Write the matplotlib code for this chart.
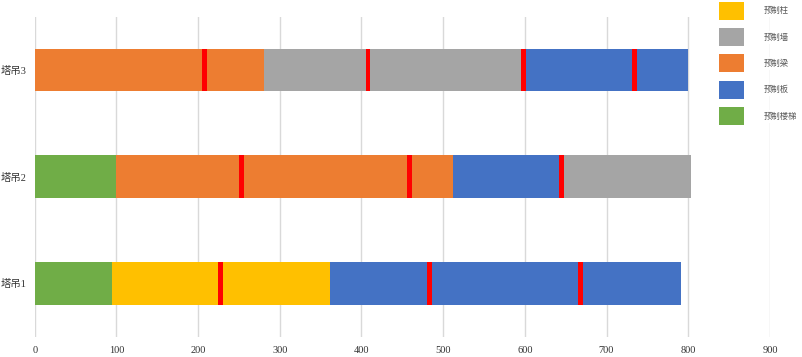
import matplotlib.pyplot as plt
from matplotlib.patches import Patch

plt.rcParams['font.family'] = ['Liberation Serif', 'Noto Sans CJK SC', 'DejaVu Sans']

towers = ['塔吊1', '塔吊2', '塔吊3']

# segments of each tower crane bar (category, length)
t1_parts = ['预制楼梯', '预制柱', '预制板']
t1_len = [95, 266, 430]
t2_parts = ['预制楼梯', '预制梁', '预制板', '预制墙']
t2_len = [100, 412, 133, 158]
t3_parts = ['预制梁', '预制墙', '预制板']
t3_len = [281, 318, 201]

# red marks (centre values)
t1_marks = [227, 483, 668]
t2_marks = [253, 459, 645]
t3_marks = [208, 408, 598, 734]
mark_w = 6

legend_order = ['预制柱', '预制墙', '预制梁', '预制板', '预制楼梯']
colors = {'预制柱': '#FFC000', '预制墙': '#A5A5A5', '预制梁': '#ED7D31',
          '预制板': '#4472C4', '预制楼梯': '#70AD47'}

fig = plt.figure(figsize=(8.02, 3.57), dpi=100)
ax = fig.add_axes([0.0433, 0.057, 0.9167, 0.896])

all_parts = [t1_parts, t2_parts, t3_parts]
all_len = [t1_len, t2_len, t3_len]
all_marks = [t1_marks, t2_marks, t3_marks]

for i in range(len(towers)):
    left = 0
    for p, l in zip(all_parts[i], all_len[i]):
        ax.barh(i, l, left=left, height=0.4, color=colors[p], zorder=2)
        left += l
    for m in all_marks[i]:
        ax.barh(i, mark_w, left=m - mark_w / 2, height=0.4, color='#FF0000', zorder=3)

ax.set_xlim(0, 900)
ax.set_ylim(-0.5, 2.5)
ax.set_xticks(range(0, 1000, 100))
ax.set_yticks(range(len(towers)))
ax.set_yticklabels(towers)
ax.grid(axis='x', color='#D9D9D9', linewidth=1, zorder=0)
ax.tick_params(length=0, labelsize=7.5, colors='#333333')
ax.tick_params(axis='x', pad=7)
ax.tick_params(axis='y', pad=6)
for s in ax.spines.values():
    s.set_visible(False)

handles = [Patch(facecolor=colors[c]) for c in legend_order]
leg = ax.legend(handles, legend_order, loc='upper left',
                bbox_to_anchor=(719 / 802, 1 - 1.7 / 357), bbox_transform=fig.transFigure,
                frameon=False, fontsize=6, borderpad=0, borderaxespad=0,
                handlelength=3.0, handleheight=2.95, labelspacing=1.0, handletextpad=2.4)
for t in leg.get_texts():
    t.set_color('#595959')
    t.set_bbox(dict(facecolor='white', edgecolor='none', pad=1.5))

fig.savefig('out.png', dpi=100)
